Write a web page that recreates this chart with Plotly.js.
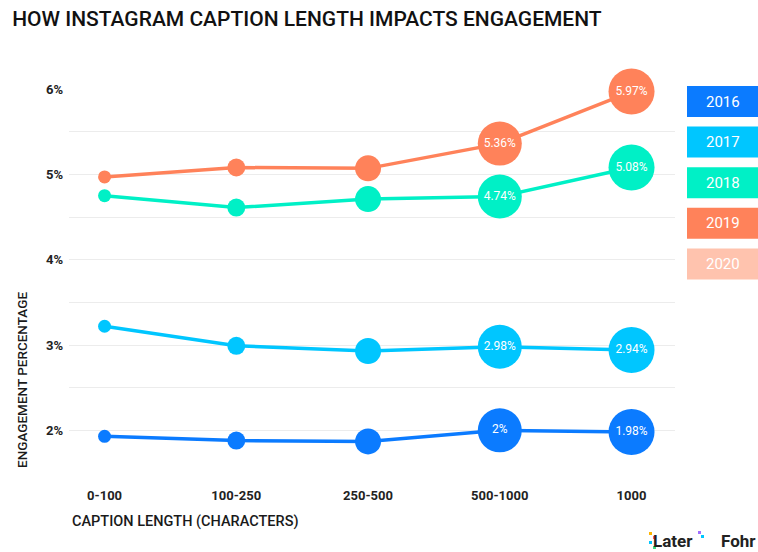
<!DOCTYPE html>
<html>
<head>
<meta charset="utf-8">
<script src="https://cdn.plot.ly/plotly-3.0.1.min.js"></script>
<style>html,body{margin:0;padding:0;background:#fff;}#chart{width:758px;height:552px;}</style>
</head>
<body>
<div id="chart"></div>
<script>
var categories = ["0-100", "100-250", "250-500", "500-1000", "1000"];
var years = ["2016", "2017", "2018", "2019", "2020"];
var v2016 = [1.93, 1.88, 1.87, 2.00, 1.98];
var v2017 = [3.22, 2.99, 2.93, 2.98, 2.94];
var v2018 = [4.75, 4.61, 4.71, 4.74, 5.08];
var v2019 = [4.97, 5.08, 5.07, 5.36, 5.97];
var labelled = [false, false, false, true, true];
var yTickVals = [1.5, 2, 2.5, 3, 3.5, 4, 4.5, 5, 5.5, 6];
var yTickText = ["", "2%", "", "3%", "", "4%", "", "5%", "", "6%"];

var colors = {"2016": "#0b7bff", "2017": "#00c6ff", "2018": "#00f0c6", "2019": "#ff825a", "2020": "#ffc3ae"};
var markerSizes = [13, 18, 26, 44, 46];

var series = [["2016", v2016], ["2017", v2017], ["2018", v2018], ["2019", v2019]];

function fmt(v) {
  return (Math.round(v * 100) / 100).toString() + "%";
}

var traces = series.map(function (s) {
  var name = s[0], vals = s[1];
  return {
    type: "scatter",
    mode: "lines+markers+text",
    name: name,
    x: categories,
    y: vals,
    text: vals.map(function (v, i) { return labelled[i] ? fmt(v) : ""; }),
    textposition: "middle center",
    textfont: {family: "Roboto, sans-serif", size: 12, color: "#ffffff"},
    line: {color: colors[name], width: 3.5},
    marker: {color: colors[name], size: markerSizes, line: {width: 0}, opacity: 1},
    cliponaxis: false,
    hoverinfo: "x+y"
  };
});

// plot geometry (pixels)
var L = 69, R = 83, T = 89, B = 79;
var W = 758, H = 552;
var pw = W - L - R, ph = H - T - B;
function px(x) { return (x - L) / pw; }
function py(y) { return (H - B - y) / ph; }

var shapes = [];
var annotations = [];

// legend boxes
var boxTop = 86, boxH = 31, boxGap = 40.6, boxX0 = 687, boxX1 = 758;
years.forEach(function (yr, i) {
  var y0 = boxTop + i * boxGap;
  shapes.push({type: "rect", xref: "paper", yref: "paper",
    x0: px(boxX0), x1: px(boxX1), y0: py(y0 + boxH), y1: py(y0),
    fillcolor: colors[yr], line: {width: 0}, layer: "above"});
  annotations.push({xref: "paper", yref: "paper", x: px((boxX0 + boxX1) / 2), y: py(y0 + boxH / 2),
    text: yr, showarrow: false, xanchor: "center", yanchor: "middle",
    font: {family: "Roboto, sans-serif", size: 15, color: "#ffffff"}});
});

// axis titles
annotations.push({xref: "paper", yref: "paper", x: px(22), y: py(380), text: "ENGAGEMENT PERCENTAGE",
  textangle: -90, showarrow: false, xanchor: "center", yanchor: "middle",
  font: {family: "Roboto, sans-serif", size: 13.5, color: "#1a1a1a", weight: 500}});
annotations.push({xref: "paper", yref: "paper", x: px(70), y: py(521), text: "CAPTION LENGTH (CHARACTERS)",
  showarrow: false, xanchor: "left", yanchor: "middle",
  font: {family: "Roboto, sans-serif", size: 14.5, color: "#1a1a1a", weight: 500}});

// logos
annotations.push({xref: "paper", yref: "paper", x: px(651), y: py(541), text: "Later",
  showarrow: false, xanchor: "left", yanchor: "middle",
  font: {family: "Roboto, sans-serif", size: 17, color: "#222222", weight: 700}});
annotations.push({xref: "paper", yref: "paper", x: px(719), y: py(541), text: "Fohr",
  showarrow: false, xanchor: "left", yanchor: "middle",
  font: {family: "Roboto, sans-serif", size: 17, color: "#222222", weight: 700}});
var pix = [[649, 532, "#ffb400"], [653, 536, "#ff5a5a"], [649, 541, "#00c6ff"], [653, 546, "#3ddc84"], [698, 531, "#a070ff"], [701, 535, "#00c6ff"]];
pix.forEach(function (p) {
  shapes.push({type: "rect", xref: "paper", yref: "paper",
    x0: px(p[0]), x1: px(p[0] + 3), y0: py(p[1] + 3), y1: py(p[1]),
    fillcolor: p[2], line: {width: 0}});
});

var layout = {
  width: W, height: H,
  margin: {l: L, r: R, t: T, b: B, pad: 0},
  paper_bgcolor: "#ffffff", plot_bgcolor: "#ffffff",
  showlegend: false,
  title: {text: "HOW INSTAGRAM CAPTION LENGTH IMPACTS ENGAGEMENT", x: 0.016, xanchor: "left", y: 0.967, yanchor: "middle",
    font: {family: "Roboto, sans-serif", size: 21, color: "#111111", weight: 500}},
  xaxis: {type: "category", range: [-0.27, 4.33], showgrid: false, zeroline: false, showline: false,
    ticks: "", ticklabelstandoff: 13,
    tickfont: {family: "Roboto, sans-serif", size: 13, color: "#222222", weight: 700}},
  yaxis: {range: [1.5, 6], tickmode: "array", tickvals: yTickVals, ticktext: yTickText,
    showgrid: true, gridcolor: "#ececec", gridwidth: 1, zeroline: false, showline: false, ticks: "",
    ticklabelstandoff: 5,
    tickfont: {family: "Roboto, sans-serif", size: 13, color: "#222222", weight: 700}},
  shapes: shapes,
  annotations: annotations
};

Plotly.newPlot("chart", traces, layout, {displayModeBar: false, staticPlot: true});
</script>
</body>
</html>
